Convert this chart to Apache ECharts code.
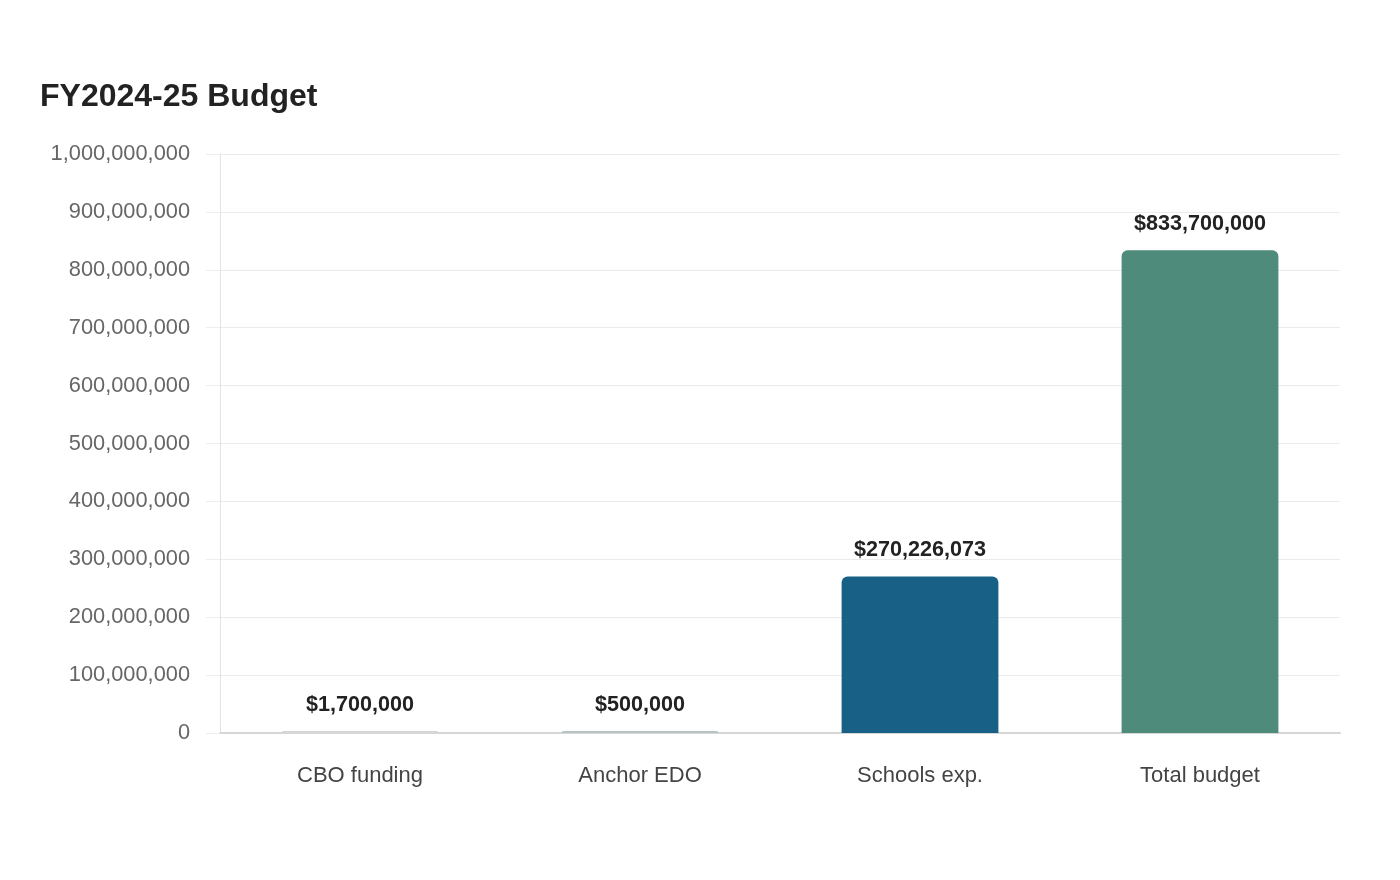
<!DOCTYPE html>
<html><head><meta charset="utf-8">
<script src="https://cdn.jsdelivr.net/npm/echarts@6/dist/echarts.min.js"></script>
<style>html,body{margin:0;padding:0;background:#fff}#c{width:1400px;height:880px}</style>
</head><body><div id="c"></div>
<script>
const categories = ['CBO funding', 'Anchor EDO', 'Schools exp.', 'Total budget'];
const values = [1700000, 500000, 270226073, 833700000];
const barColors = ['#d6d6d6', '#b8c4c4', '#186086', '#4e8b7a'];
const yTicks = { min: 0, max: 1000000000, interval: 100000000 };

const chart = echarts.init(document.getElementById('c'));
const fmt = v => v.toLocaleString('en-US');
const FF = 'Liberation Sans, Arial, sans-serif';
chart.setOption({
  animation: false,
  title: { text: 'FY2024-25 Budget', left: 35, top: 76,
    textStyle: { fontFamily: FF, fontSize: 32, fontWeight: 'bold', color: '#222' } },
  grid: { left: 220, right: 60, top: 154, bottom: 147 },
  xAxis: { type: 'category', data: categories,
    axisLine: { lineStyle: { color: '#d6d6d6', width: 2 } },
    axisTick: { show: false },
    axisLabel: { margin: 32, fontSize: 22, color: '#444', fontFamily: FF } },
  yAxis: { type: 'value', min: yTicks.min, max: yTicks.max, interval: yTicks.interval,
    axisLine: { show: true, lineStyle: { color: '#ddd', type: 'dotted' } },
    axisTick: { show: true, length: 14, lineStyle: { color: '#eee' } },
    splitLine: { lineStyle: { color: '#ebebeb' } },
    axisLabel: { margin: 30, fontSize: 21.8, color: '#666', fontFamily: FF, padding: [3, 0, 0, 0], formatter: v => fmt(v) } },
  series: [{
    type: 'bar', barWidth: '56%', barMinHeight: 2,
    data: values.map((v, i) => ({ value: v, itemStyle: { color: barColors[i] } })),
    itemStyle: { borderRadius: [6, 6, 0, 0] },
    label: { show: true, position: 'top', distance: 15, fontSize: 21.6, fontWeight: 'bold', color: '#222',
      fontFamily: FF, formatter: p => '$' + fmt(p.value) }
  }]
});
</script></body></html>
